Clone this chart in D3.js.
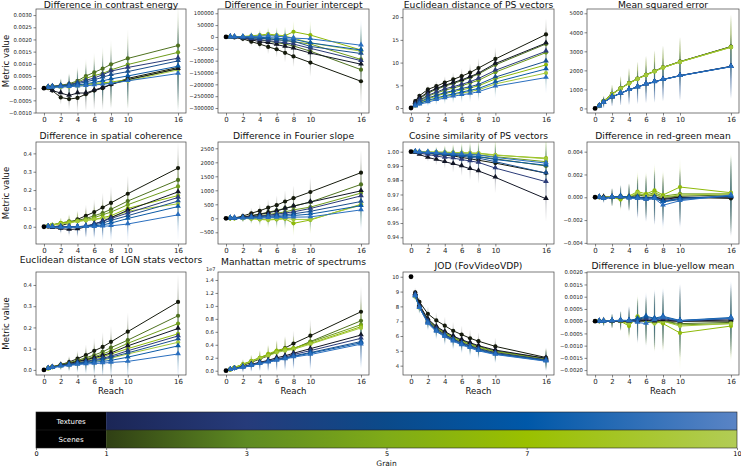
<!DOCTYPE html>
<html>
<head>
<meta charset="utf-8">
<script src="https://cdn.jsdelivr.net/npm/d3@7"></script>
<style>
body { margin: 0; background: #fff; }
svg { display: block; font-family: "DejaVu Sans", sans-serif; }
</style>
</head>
<body>
<svg id="chart" width="741" height="467"></svg>
<script>
// reach values of every series (reach 0 is the grain-0 reference point)
const reach = [0.5, 1, 2, 3, 4, 5, 6, 7, 8, 10, 16];
const grains = [1, 3, 5, 7, 10];
const xTicks = [0, 2, 4, 6, 8, 10, 16];
const texColors = ["#121626", "#2b3b78", "#1a4f8e", "#0b5aa6", "#2a6fbf"];
const scnColors = ["#151a0c", "#4f7220", "#6f9c1c", "#8fba0a", "#a3c83a"];
const texBarStops = [["#1b2656", 1], ["#263b7a", 3], ["#0b4a8a", 5], ["#0058a8", 7], ["#5a84c5", 10]];
const scnBarStops = [["#2f3f14", 1], ["#5e8a22", 3], ["#7fab18", 5], ["#9ac000", 7], ["#b2cc55", 10]];
const barTicks = [0, 1, 3, 5, 7, 10];

// ---- panel data: rows are grains 1,3,5,7,10 ----
const contrastTex = [
  [0, -0.0001, -0.0002, -0.0003, -0.0002, -0.0002, -0.00008, 0.00003, 0.00015, 0.00035, 0.0008],
  [0.00005, 0.00007, 0.0001, 0.00015, 0.00022, 0.00032, 0.00042, 0.00055, 0.0007, 0.00085, 0.00123],
  [0.00004, 0.00006, 0.00009, 0.00012, 0.00018, 0.00026, 0.00034, 0.00045, 0.00055, 0.00068, 0.00112],
  [0.00003, 0.00005, 0.00007, 0.0001, 0.00013, 0.00018, 0.00024, 0.0003, 0.00038, 0.0005, 0.0009],
  [0.00002, 0.00003, 0.00005, 0.00006, 0.00008, 0.0001, 0.00013, 0.00016, 0.0002, 0.0003, 0.0006]];
const contrastScn = [
  [0, -0.0001, -0.00038, -0.00045, -0.0004, -0.00025, -0.0001, 0, 0.00015, 0.0004, 0.00085],
  [0.00005, 0.00008, 0.00012, 0.00018, 0.0003, 0.0005, 0.00065, 0.0008, 0.00098, 0.00122, 0.00175],
  [0.00005, 0.00006, 0.0001, 0.00015, 0.00025, 0.0004, 0.00052, 0.0006, 0.00075, 0.00097, 0.00147],
  [0.00003, 0.00004, 0.00006, 0.00008, 0.00012, 0.00015, 0.0002, 0.00022, 0.00025, 0.00035, 0.0008],
  [0.00002, 0.00003, 0.00005, 0.00006, 0.0001, 0.00012, 0.00016, 0.00018, 0.0002, 0.0003, 0.00075]];
const contrastErr = [0.00005, 0.0001, 0.0003, 0.00045, 0.0006, 0.0007, 0.0008, 0.0009, 0.001, 0.0012, 0.0017];

const interceptTex = [
  [0, -2000, -5000, -12000, -20000, -25000, -32000, -40000, -48000, -68000, -115000],
  [0, -1000, -4000, -8000, -12000, -15000, -20000, -25000, -30000, -48000, -100000],
  [0, 0, -2000, -4000, -6000, -8000, -12000, -15000, -18000, -40000, -70000],
  [0, 0, 0, 0, -2000, -3000, -5000, -8000, -10000, -25000, -55000],
  [0, 0, 0, 2000, 3000, 5000, 3000, 0, -5000, -8000, -35000]];
const interceptScn = [
  [0, -2000, -8000, -20000, -30000, -42000, -52000, -67000, -82000, -108000, -187000],
  [0, -1000, -3000, -8000, -12000, -18000, -24000, -30000, -38000, -60000, -138000],
  [0, 0, -2000, -3000, -5000, -8000, -10000, -15000, -20000, -30000, -95000],
  [0, 0, 2000, 5000, 8000, 12000, 8000, 5000, 22000, 8000, -55000],
  [0, 0, 0, 3000, 5000, 8000, 5000, 3000, -5000, -25000, -60000]];
const interceptErr = [3000, 8000, 15000, 20000, 25000, 30000, 35000, 40000, 45000, 60000, 110000];

const psDistTex = [
  [1.2, 2.2, 3.5, 4.3, 5.0, 5.6, 6.2, 6.9, 7.7, 9.8, 14.3],
  [0.8, 1.7, 2.8, 3.5, 4.2, 4.7, 5.2, 5.8, 6.5, 8.3, 12.5],
  [0.6, 1.3, 2.2, 2.8, 3.4, 3.8, 4.3, 4.7, 5.2, 6.8, 10.3],
  [0.5, 1.0, 1.7, 2.2, 2.7, 3.1, 3.5, 3.9, 4.3, 5.7, 8.6],
  [0.4, 0.8, 1.3, 1.8, 2.2, 2.6, 2.9, 3.2, 3.6, 4.8, 6.7]];
const psDistScn = [
  [1.5, 2.7, 4.1, 4.8, 5.6, 6.3, 7.0, 7.8, 8.8, 10.8, 16.2],
  [1.0, 2.0, 3.3, 4.1, 4.8, 5.4, 6.0, 6.7, 7.5, 9.5, 14.1],
  [0.8, 1.5, 2.6, 3.3, 3.9, 4.4, 4.9, 5.5, 6.1, 7.9, 12.2],
  [0.6, 1.2, 2.0, 2.6, 3.2, 3.6, 4.0, 4.4, 4.9, 6.4, 9.5],
  [0.5, 1.0, 1.6, 2.0, 2.5, 2.9, 3.3, 3.6, 4.0, 5.3, 7.7]];
const psDistErr = [0.3, 0.6, 1.0, 1.2, 1.4, 1.6, 1.8, 2.0, 2.2, 2.6, 3.5];

const mseTex = [
  [135, 325, 605, 805, 985, 1135, 1285, 1405, 1525, 1725, 2210],
  [132, 322, 602, 802, 982, 1132, 1282, 1402, 1522, 1722, 2205],
  [130, 320, 600, 800, 980, 1130, 1280, 1400, 1520, 1720, 2200],
  [128, 318, 598, 798, 978, 1128, 1278, 1398, 1518, 1718, 2195],
  [125, 315, 595, 795, 975, 1125, 1275, 1395, 1515, 1715, 2190]];
const mseScn = [
  [160, 390, 760, 1060, 1330, 1570, 1770, 1960, 2160, 2460, 3250],
  [155, 385, 755, 1055, 1325, 1565, 1765, 1955, 2155, 2455, 3240],
  [150, 380, 750, 1050, 1320, 1560, 1760, 1950, 2150, 2450, 3230],
  [145, 375, 745, 1045, 1315, 1555, 1755, 1945, 2145, 2445, 3220],
  [140, 370, 740, 1040, 1310, 1550, 1750, 1940, 2140, 2440, 3210]];
const mseErr = [150, 300, 500, 650, 800, 900, 1000, 1100, 1150, 1300, 1700];

const coherenceTex = [
  [0, -0.005, -0.01, -0.015, -0.012, 0, 0.015, 0.03, 0.05, 0.09, 0.19],
  [0, 0, 0, 0, 0, 0.005, 0.015, 0.03, 0.045, 0.075, 0.16],
  [0, 0, 0, 0, 0, 0.003, 0.01, 0.02, 0.035, 0.06, 0.14],
  [0, -0.002, -0.003, -0.002, 0, 0, 0.005, 0.01, 0.02, 0.045, 0.11],
  [0, -0.002, -0.004, -0.003, -0.002, 0, 0, 0.003, 0.005, 0.015, 0.065]];
const coherenceScn = [
  [0, 0, 0.005, 0.02, 0.04, 0.06, 0.08, 0.105, 0.13, 0.18, 0.32],
  [0.005, 0.01, 0.02, 0.03, 0.035, 0.045, 0.06, 0.075, 0.095, 0.14, 0.255],
  [0.005, 0.01, 0.02, 0.025, 0.03, 0.04, 0.05, 0.065, 0.08, 0.12, 0.22],
  [0.005, 0.01, 0.02, 0.025, 0.03, 0.035, 0.04, 0.05, 0.06, 0.1, 0.17],
  [0.005, 0.01, 0.015, 0.02, 0.03, 0.035, 0.04, 0.045, 0.05, 0.085, 0.125]];
const coherenceErr = [0.005, 0.01, 0.03, 0.04, 0.05, 0.06, 0.07, 0.08, 0.09, 0.1, 0.14];

const slopeTex = [
  [0, 5, 40, 90, 140, 200, 260, 350, 430, 580, 980],
  [0, 0, 30, 60, 80, 110, 150, 190, 230, 350, 800],
  [0, 0, 20, 40, 60, 80, 100, 130, 160, 250, 600],
  [0, 0, 10, 20, 30, 50, 60, 80, 100, 150, 450],
  [0, 0, 0, 10, 10, 20, 30, 30, 40, 50, 300]];
const slopeScn = [
  [0, 10, 80, 180, 270, 380, 470, 600, 720, 940, 1630],
  [0, 5, 40, 100, 150, 220, 280, 360, 440, 580, 1210],
  [0, 0, 30, 60, 100, 130, 180, 230, 300, 400, 900],
  [0, 0, 0, -20, -40, -60, -40, -20, -180, -60, 500],
  [0, 0, 10, 0, -20, -40, -20, 0, -40, -40, 470]];
const slopeErr = [20, 50, 150, 200, 250, 300, 350, 400, 450, 500, 800];

const cosineTex = [
  [0.9995, 0.998, 0.996, 0.9945, 0.993, 0.9915, 0.990, 0.988, 0.9865, 0.982, 0.967],
  [0.9998, 0.999, 0.998, 0.997, 0.996, 0.9955, 0.9945, 0.9935, 0.9925, 0.9885, 0.979],
  [0.9998, 0.9995, 0.999, 0.9985, 0.998, 0.9975, 0.997, 0.996, 0.9955, 0.993, 0.985],
  [0.9999, 0.9997, 0.9993, 0.999, 0.9985, 0.998, 0.9975, 0.997, 0.9965, 0.9945, 0.9905],
  [1, 0.9998, 0.9996, 0.9993, 0.999, 0.9987, 0.9984, 0.998, 0.9977, 0.996, 0.992]];
const cosineScn = [
  [0.9998, 0.9995, 0.999, 0.998, 0.9975, 0.997, 0.996, 0.995, 0.994, 0.992, 0.985],
  [0.9999, 0.9997, 0.9993, 0.999, 0.9985, 0.998, 0.9975, 0.997, 0.9965, 0.995, 0.99],
  [1, 0.9998, 0.9996, 0.9994, 0.9992, 0.999, 0.9985, 0.998, 0.9978, 0.9965, 0.993],
  [1, 0.9999, 0.9998, 0.9997, 0.9996, 0.9994, 0.9992, 0.999, 0.9988, 0.9975, 0.9955],
  [1, 0.9999, 0.9998, 0.9997, 0.9996, 0.9995, 0.9993, 0.9991, 0.999, 0.9978, 0.995]];
const cosineErr = [0.0003, 0.001, 0.003, 0.004, 0.005, 0.006, 0.007, 0.008, 0.009, 0.011, 0.016];

const redGreenTex = [
  [0, 0, 0, 0, 0, 0, -0.0001, 0, -0.0002, 0, 0],
  [0, -0.0001, 0, 0, 0, 0, -0.0001, 0, -0.0003, -0.0001, 0.0001],
  [0, -0.0001, 0, 0.0001, 0, -0.0001, -0.0002, -0.0001, -0.0004, -0.0002, 0.0001],
  [0, -0.0001, 0, 0.0001, 0, 0, -0.0001, 0, -0.0004, -0.0001, 0.0001],
  [0, -0.0001, 0, 0, -0.0001, -0.0001, -0.0002, -0.0001, -0.0007, -0.0003, 0.0002]];
const redGreenScn = [
  [0, 0, 0, 0, 0, 0, 0, 0, -0.0001, 0, -0.0001],
  [0, 0, 0, 0.0001, 0, 0.0002, 0.0001, 0.0002, 0, 0.0001, 0.0002],
  [0, 0, 0, -0.0001, 0, 0.0003, 0.0002, 0.0004, 0.0001, 0.0003, 0.0003],
  [0, 0, 0, -0.0002, 0.0001, 0.0005, 0.0003, 0.0006, 0.0002, 0.0009, 0.0004],
  [0, 0, 0, 0.0001, 0, 0.0004, 0.0001, 0.0003, 0, 0.0002, 0.0003]];
const redGreenErr = [0.0002, 0.0004, 0.0008, 0.001, 0.0012, 0.0018, 0.002, 0.0024, 0.0022, 0.0025, 0.0035];

const lgnTex = [
  [0.007, 0.013, 0.022, 0.03, 0.04, 0.048, 0.058, 0.068, 0.08, 0.113, 0.195],
  [0.007, 0.012, 0.02, 0.026, 0.034, 0.04, 0.048, 0.055, 0.065, 0.09, 0.16],
  [0.007, 0.012, 0.02, 0.025, 0.032, 0.037, 0.044, 0.05, 0.06, 0.08, 0.145],
  [0.006, 0.011, 0.018, 0.023, 0.028, 0.032, 0.036, 0.04, 0.045, 0.06, 0.113],
  [0.006, 0.011, 0.017, 0.021, 0.025, 0.028, 0.03, 0.032, 0.035, 0.04, 0.075]];
const lgnScn = [
  [0.008, 0.015, 0.025, 0.037, 0.053, 0.07, 0.09, 0.108, 0.132, 0.18, 0.32],
  [0.008, 0.014, 0.024, 0.033, 0.045, 0.057, 0.07, 0.085, 0.105, 0.14, 0.255],
  [0.008, 0.014, 0.023, 0.031, 0.042, 0.052, 0.062, 0.075, 0.09, 0.125, 0.218],
  [0.007, 0.013, 0.021, 0.028, 0.037, 0.045, 0.054, 0.062, 0.075, 0.10, 0.17],
  [0.006, 0.012, 0.019, 0.024, 0.03, 0.035, 0.04, 0.047, 0.055, 0.075, 0.13]];
const lgnErr = [0.005, 0.01, 0.02, 0.03, 0.04, 0.05, 0.06, 0.07, 0.075, 0.09, 0.13];

// Manhattan metric in units of 1e7
const manhattanTex = [
  [0.015, 0.03, 0.06, 0.1, 0.13, 0.16, 0.2, 0.23, 0.27, 0.34, 0.55],
  [0.015, 0.03, 0.06, 0.09, 0.12, 0.15, 0.18, 0.21, 0.25, 0.31, 0.5],
  [0.015, 0.03, 0.06, 0.09, 0.12, 0.14, 0.17, 0.2, 0.23, 0.28, 0.45],
  [0.015, 0.03, 0.05, 0.08, 0.11, 0.14, 0.16, 0.19, 0.22, 0.27, 0.43],
  [0.015, 0.03, 0.05, 0.08, 0.11, 0.13, 0.16, 0.18, 0.21, 0.25, 0.41]];
const manhattanScn = [
  [0.02, 0.04, 0.08, 0.13, 0.18, 0.23, 0.3, 0.35, 0.42, 0.54, 0.91],
  [0.02, 0.05, 0.09, 0.14, 0.19, 0.24, 0.29, 0.33, 0.34, 0.45, 0.77],
  [0.02, 0.05, 0.1, 0.15, 0.2, 0.25, 0.3, 0.32, 0.34, 0.44, 0.71],
  [0.02, 0.05, 0.1, 0.15, 0.2, 0.26, 0.31, 0.34, 0.35, 0.42, 0.68],
  [0.02, 0.05, 0.09, 0.14, 0.19, 0.23, 0.28, 0.31, 0.33, 0.41, 0.66]];
const manhattanErr = [0.02, 0.04, 0.08, 0.1, 0.12, 0.15, 0.17, 0.19, 0.2, 0.25, 0.4];

const jodTex = [
  [8.85, 8.1, 7.15, 6.65, 6.3, 6.0, 5.75, 5.55, 5.35, 5.05, 4.5],
  [8.8, 8.0, 7.0, 6.5, 6.1, 5.8, 5.55, 5.35, 5.15, 4.88, 4.4],
  [8.75, 7.95, 6.95, 6.4, 6.05, 5.75, 5.5, 5.3, 5.1, 4.82, 4.37],
  [8.7, 7.9, 6.9, 6.35, 6.0, 5.7, 5.45, 5.25, 5.05, 4.78, 4.33],
  [8.7, 7.9, 6.85, 6.3, 5.95, 5.65, 5.4, 5.2, 5.0, 4.75, 4.3]];
const jodScn = [
  [8.95, 8.3, 7.5, 7.05, 6.7, 6.35, 6.1, 5.85, 5.65, 5.3, 4.55],
  [8.8, 8.05, 7.1, 6.6, 6.25, 5.95, 5.7, 5.5, 5.3, 5.0, 4.48],
  [8.75, 8.0, 7.05, 6.55, 6.2, 5.9, 5.65, 5.45, 5.25, 4.95, 4.45],
  [8.7, 7.95, 7.0, 6.5, 6.15, 5.85, 5.6, 5.4, 5.2, 4.9, 4.42],
  [8.65, 7.9, 6.95, 6.45, 6.1, 5.8, 5.55, 5.35, 5.15, 4.85, 4.4]];
const jodErr = [0.3, 0.4, 0.5, 0.55, 0.6, 0.6, 0.6, 0.6, 0.6, 0.6, 0.7];

const blueYellowTex = [
  [0, 0, 0, 0, 0, 0, 0.00005, 0, 0.00005, 0, 0.00005],
  [0, 0, 0, 0.00002, 0, 0.00005, 0.0001, 0.00005, 0.0001, 0, 0.0001],
  [0, 0, 0, 0.00003, 0.00002, 0.00008, 0.00015, 0.0001, 0.00015, 0.00002, 0.00012],
  [0, 0, 0.00002, 0.00004, 0.00003, 0.0001, 0.0002, 0.00012, 0.0002, 0.00003, 0.00015],
  [0, 0, 0.00002, 0.00003, 0.00002, -0.00005, -0.0001, 0.00005, 0.00015, 0.00002, 0.00012]];
const blueYellowScn = [
  [0, 0, 0, 0, 0, 0, 0, 0, 0, 0, 0],
  [0, 0, 0, 0, -0.00005, 0.00005, 0, -0.00005, 0, -0.0001, -0.00005],
  [0, 0, 0, 0, -0.0001, 0.0001, 0, -0.00005, 0, -0.00015, -0.0001],
  [0, 0, 0, 0, -0.0002, 0.0002, 0, 0, -0.0001, -0.00048, -0.0002],
  [0, 0, 0, 0, -0.0001, 0.0001, 0, -0.0001, 0, -0.0002, -0.0001]];
const blueYellowErr = [0.0001, 0.0002, 0.0003, 0.0004, 0.0006, 0.0009, 0.001, 0.0012, 0.0012, 0.0015, 0.0015];

// reference value at reach 0 and y tick values per panel
const refValues = [0, 0, 0, 0, 0, 0, 1, 0, 0, 0, 10, 0];
const titles = ["Difference in contrast energy", "Difference in Fourier intercept", "Euclidean distance of PS vectors", "Mean squared error",
  "Difference in spatial coherence", "Difference in Fourier slope", "Cosine similarity of PS vectors", "Difference in red-green mean",
  "Euclidean distance of LGN stats vectors", "Manhattan metric of spectrums", "JOD (FovVideoVDP)", "Difference in blue-yellow mean"];
const yTicks = [
  d3.range(-0.001, 0.00301, 0.0005), d3.range(-300000, 100001, 50000), [0, 5, 10, 15, 20], [0, 1000, 2000, 3000, 4000, 5000],
  [0, 0.1, 0.2, 0.3, 0.4], [-500, 0, 500, 1000, 1500, 2000, 2500], [0.94, 0.95, 0.96, 0.97, 0.98, 0.99, 1.0], [-0.004, -0.002, 0, 0.002, 0.004],
  [0, 0.1, 0.2, 0.3, 0.4], [0, 0.2, 0.4, 0.6, 0.8, 1.0, 1.2, 1.4], [4, 5, 6, 7, 8, 9, 10], d3.range(-0.002, 0.00201, 0.0005)];

const panels = [
  {tex: contrastTex, scn: contrastScn, err: contrastErr, dom: [-0.00102, 0.00325], fmt: ".4f"},
  {tex: interceptTex, scn: interceptScn, err: interceptErr, dom: [-321000, 118000], fmt: "d"},
  {tex: psDistTex, scn: psDistScn, err: psDistErr, dom: [-1.1, 21.8], fmt: "d"},
  {tex: mseTex, scn: mseScn, err: mseErr, dom: [-240, 5225], fmt: "d"},
  {tex: coherenceTex, scn: coherenceScn, err: coherenceErr, dom: [-0.094, 0.462], fmt: ".1f"},
  {tex: slopeTex, scn: slopeScn, err: slopeErr, dom: [-918, 2725], fmt: "d"},
  {tex: cosineTex, scn: cosineScn, err: cosineErr, dom: [0.9353, 1.0068], fmt: ".2f"},
  {tex: redGreenTex, scn: redGreenScn, err: redGreenErr, dom: [-0.0041, 0.00485], fmt: ".3f"},
  {tex: lgnTex, scn: lgnScn, err: lgnErr, dom: [-0.024, 0.461], fmt: ".1f"},
  {tex: manhattanTex, scn: manhattanScn, err: manhattanErr, dom: [-0.066, 1.523], fmt: ".1f"},
  {tex: jodTex, scn: jodScn, err: jodErr, dom: [3.37, 10.32], fmt: "d"},
  {tex: blueYellowTex, scn: blueYellowScn, err: blueYellowErr, dom: [-0.0022, 0.00201], fmt: ".4f"}
];

// layout
const colLeft = [36, 218, 403, 587], colRight = [186, 369, 554, 739];
const rowTop = [9, 142, 272], rowBottom = [113, 244, 375];
const titleBase = [8.3, 8.3, 8.3, 8.3, 139, 139, 139, 139, 262.5, 264.5, 269, 269];
const xDomain = [-0.95, 16.95];

const svg = d3.select("#chart");
const defs = svg.append("defs");

// vertical fading gradients for the error bars
function fadeId(color) { return "fade" + color.slice(1); }
texColors.concat(scnColors).forEach(c => {
  const lg = defs.append("linearGradient").attr("id", fadeId(c))
    .attr("x1", 0).attr("y1", 0).attr("x2", 0).attr("y2", 1);
  lg.append("stop").attr("offset", "0%").attr("stop-color", c).attr("stop-opacity", 0);
  lg.append("stop").attr("offset", "50%").attr("stop-color", c).attr("stop-opacity", 0.3);
  lg.append("stop").attr("offset", "100%").attr("stop-color", c).attr("stop-opacity", 0);
});

const tri = d3.symbol().type(d3.symbolTriangle).size(14);

panels.forEach((p, i) => {
  const col = i % 4, row = Math.floor(i / 4);
  const x = d3.scaleLinear().domain(xDomain).range([colLeft[col], colRight[col]]);
  const y = d3.scaleLinear().domain(p.dom).range([rowBottom[row], rowTop[row]]);
  const g = svg.append("g");

  defs.append("clipPath").attr("id", "clip" + i).append("rect")
    .attr("x", colLeft[col]).attr("y", rowTop[row])
    .attr("width", colRight[col] - colLeft[col]).attr("height", rowBottom[row] - rowTop[row]);
  const plot = g.append("g").attr("clip-path", "url(#clip" + i + ")");

  const series = [];
  p.scn.forEach((vals, k) => series.push({vals, color: scnColors[k], shape: "circle"}));
  p.tex.forEach((vals, k) => series.push({vals, color: texColors[k], shape: "tri"}));

  // error bars
  series.forEach(s => {
    plot.append("g").selectAll("rect").data(s.vals).join("rect")
      .attr("x", (d, j) => x(reach[j]) - 0.55)
      .attr("width", 1.1)
      .attr("y", (d, j) => y(d + p.err[j]))
      .attr("height", (d, j) => Math.max(0.5, y(d - p.err[j]) - y(d + p.err[j])))
      .attr("fill", "url(#" + fadeId(s.color) + ")");
  });

  const line = d3.line().x((d, j) => x(reach[j])).y(d => y(d));
  series.forEach(s => {
    plot.append("path").datum(s.vals).attr("d", line)
      .attr("fill", "none").attr("stroke", s.color).attr("stroke-width", 1);
    const m = plot.append("g");
    if (s.shape === "circle") {
      m.selectAll("circle").data(s.vals).join("circle")
        .attr("cx", (d, j) => x(reach[j])).attr("cy", d => y(d)).attr("r", 2.1)
        .attr("fill", s.color);
    } else {
      m.selectAll("path").data(s.vals).join("path")
        .attr("d", tri)
        .attr("transform", (d, j) => "translate(" + x(reach[j]) + "," + (y(d) - 0.4) + ")")
        .attr("fill", s.color);
    }
  });
  // grain 0 reference at reach 0
  plot.append("circle").attr("cx", x(0)).attr("cy", y(refValues[i])).attr("r", 2.4).attr("fill", "#000");

  // axes
  const ya = g.append("g").attr("transform", "translate(" + colLeft[col] + ",0)")
    .call(d3.axisLeft(y).tickValues(yTicks[i]).tickFormat(d3.format(p.fmt)).tickSize(2.5).tickPadding(1.5));
  ya.attr("font-size", 5.3).attr("font-family", "DejaVu Sans");
  const xa = g.append("g").attr("transform", "translate(0," + rowBottom[row] + ")")
    .call(d3.axisBottom(x).tickValues(xTicks).tickFormat(d3.format("d")).tickSize(2.5).tickPadding(1.2));
  xa.attr("font-size", 7).attr("font-family", "DejaVu Sans");
  [ya, xa].forEach(a => {
    a.select(".domain").remove();
    a.selectAll(".tick line").attr("stroke", "#333").attr("stroke-width", 0.6);
    a.selectAll(".tick text").attr("fill", "#222");
  });

  g.append("rect").attr("x", colLeft[col]).attr("y", rowTop[row])
    .attr("width", colRight[col] - colLeft[col]).attr("height", rowBottom[row] - rowTop[row])
    .attr("fill", "none").attr("stroke", "#444").attr("stroke-width", 0.7);

  g.append("text").attr("x", (colLeft[col] + colRight[col]) / 2).attr("y", titleBase[i])
    .attr("text-anchor", "middle").attr("font-size", 9.2).attr("fill", "#111").text(titles[i]);

  if (col === 0) {
    g.append("text").attr("transform", "translate(9," + (rowTop[row] + rowBottom[row]) / 2 + ") rotate(-90)")
      .attr("text-anchor", "middle").attr("font-size", 8.5).attr("fill", "#111").text("Metric value");
  }
  if (row === 2) {
    g.append("text").attr("x", (colLeft[col] + colRight[col]) / 2).attr("y", 394)
      .attr("text-anchor", "middle").attr("font-size", 8.5).attr("fill", "#111").text("Reach");
  }
  if (i === 9) {
    g.append("text").attr("x", 206).attr("y", 271).attr("font-size", 5).attr("fill", "#222").text("1e7");
  }
});

// ---- colour bar ----
const cx = d3.scaleLinear().domain([0, 10]).range([36, 737]);
const bars = [
  {label: "Textures", stops: texBarStops, y0: 412, y1: 430},
  {label: "Scenes", stops: scnBarStops, y0: 430, y1: 448}];
bars.forEach((b, k) => {
  const lg = defs.append("linearGradient").attr("id", "bar" + k)
    .attr("gradientUnits", "userSpaceOnUse")
    .attr("x1", cx(1)).attr("x2", cx(10)).attr("y1", 0).attr("y2", 0);
  b.stops.forEach(s => lg.append("stop").attr("offset", (s[1] - 1) / 9).attr("stop-color", s[0]));
  svg.append("rect").attr("x", cx(0)).attr("y", b.y0).attr("width", cx(1) - cx(0)).attr("height", b.y1 - b.y0).attr("fill", "#000");
  svg.append("rect").attr("x", cx(1)).attr("y", b.y0).attr("width", cx(10) - cx(1)).attr("height", b.y1 - b.y0).attr("fill", "url(#bar" + k + ")");
  svg.append("text").attr("x", cx(0.5)).attr("y", (b.y0 + b.y1) / 2 + 2.5)
    .attr("text-anchor", "middle").attr("font-size", 7).attr("fill", "#fff").text(b.label);
});
svg.append("line").attr("x1", cx(0)).attr("x2", cx(10)).attr("y1", 430).attr("y2", 430).attr("stroke", "#222").attr("stroke-width", 0.6);
svg.append("rect").attr("x", cx(0)).attr("y", 412).attr("width", cx(10) - cx(0)).attr("height", 36)
  .attr("fill", "none").attr("stroke", "#222").attr("stroke-width", 0.6);
const ba = svg.append("g").attr("transform", "translate(0,448)")
  .call(d3.axisBottom(cx).tickValues(barTicks).tickFormat(d3.format("d")).tickSize(2).tickPadding(1));
ba.attr("font-size", 6.5).attr("font-family", "DejaVu Sans");
ba.select(".domain").remove();
ba.selectAll(".tick line").attr("stroke", "#333").attr("stroke-width", 0.6);
svg.append("text").attr("x", cx(5)).attr("y", 466).attr("text-anchor", "middle").attr("font-size", 7.5).attr("fill", "#111").text("Grain");
</script>
</body>
</html>
